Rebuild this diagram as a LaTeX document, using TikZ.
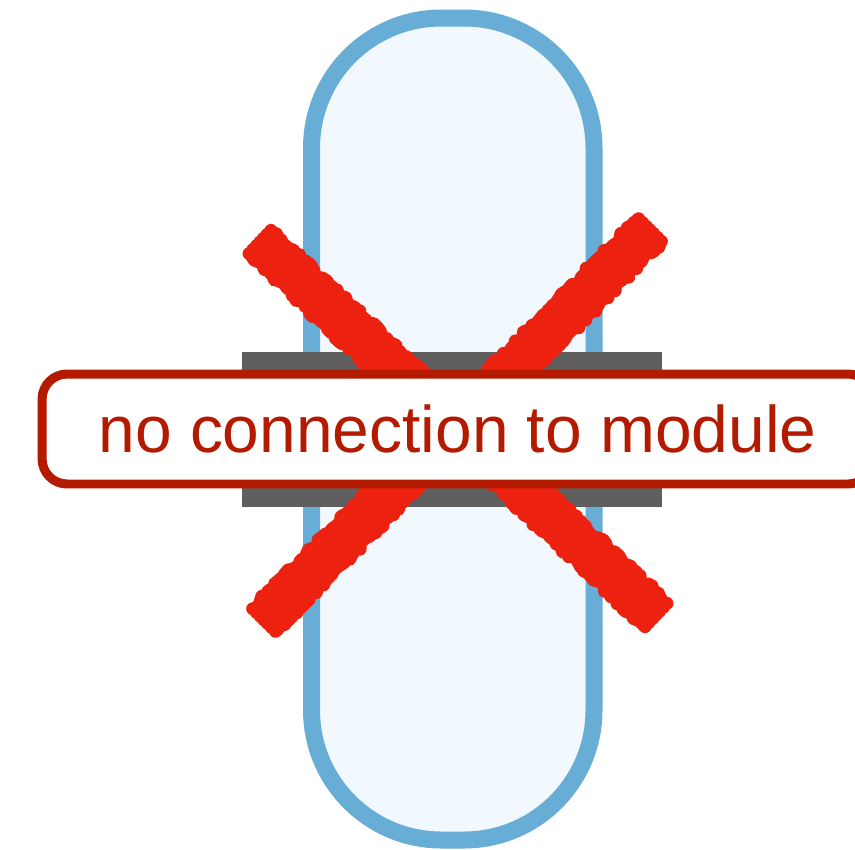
\documentclass[tikz,border=0pt]{standalone}
\usepackage{fontspec}
\setmainfont{Liberation Sans}
\usetikzlibrary{calc,decorations.pathmorphing}
\definecolor{tokkek}{HTML}{67ADD6}
\definecolor{tokhatter}{HTML}{F1F8FE}
\definecolor{sinszurke}{HTML}{5F5F5F}
\definecolor{sotetpiros}{HTML}{B31A00}
\definecolor{keresztpiros}{HTML}{EC210F}
\tikzset{
  tok/.style={draw=tokkek,fill=tokhatter,line width=0.34cm,rounded corners=2.6cm},
  sin/.style={fill=sinszurke},
  kereszt/.style={draw=keresztpiros,line width=0.26cm,line cap=round,line join=round,
                  decorate,decoration={random steps,segment length=0.07cm,amplitude=0.05cm}},
  felirat/.style={draw=sotetpiros,fill=white,line width=0.18cm,rounded corners=0.5cm,
                  minimum width=16.62cm,minimum height=2.2cm,inner sep=0pt,
                  text=sotetpiros,font=\fontsize{37.5}{40}\selectfont},
}
\begin{document}
\begin{tikzpicture}[x=0.02cm,y=-0.02cm]
  \useasboundingbox (0,0) rectangle (855,849);
  \draw[tok] (311.5,18) rectangle (594,840);
  \fill[sin] (242,352) rectangle (662,507);
  % the two strokes of the cross
  \coordinate (k1a) at (260,242);
  \coordinate (k1b) at (656,615);
  \coordinate (k2a) at (650,230);
  \coordinate (k2b) at (264,620);
  \pgfmathsetseed{7}
  \foreach \d in {-0.32,-0.21,-0.1,0,0.1,0.21,0.32} {
    \draw[kereszt] ($(k1a)!\d cm!90:(k1b)$) -- ($(k1b)!\d cm!-90:(k1a)$);
    \draw[kereszt] ($(k2a)!\d cm!90:(k2b)$) -- ($(k2b)!\d cm!-90:(k2a)$);
  }
  \node[felirat] (felirat) at (457.5,429) {no connection to module};
\end{tikzpicture}
\end{document}
